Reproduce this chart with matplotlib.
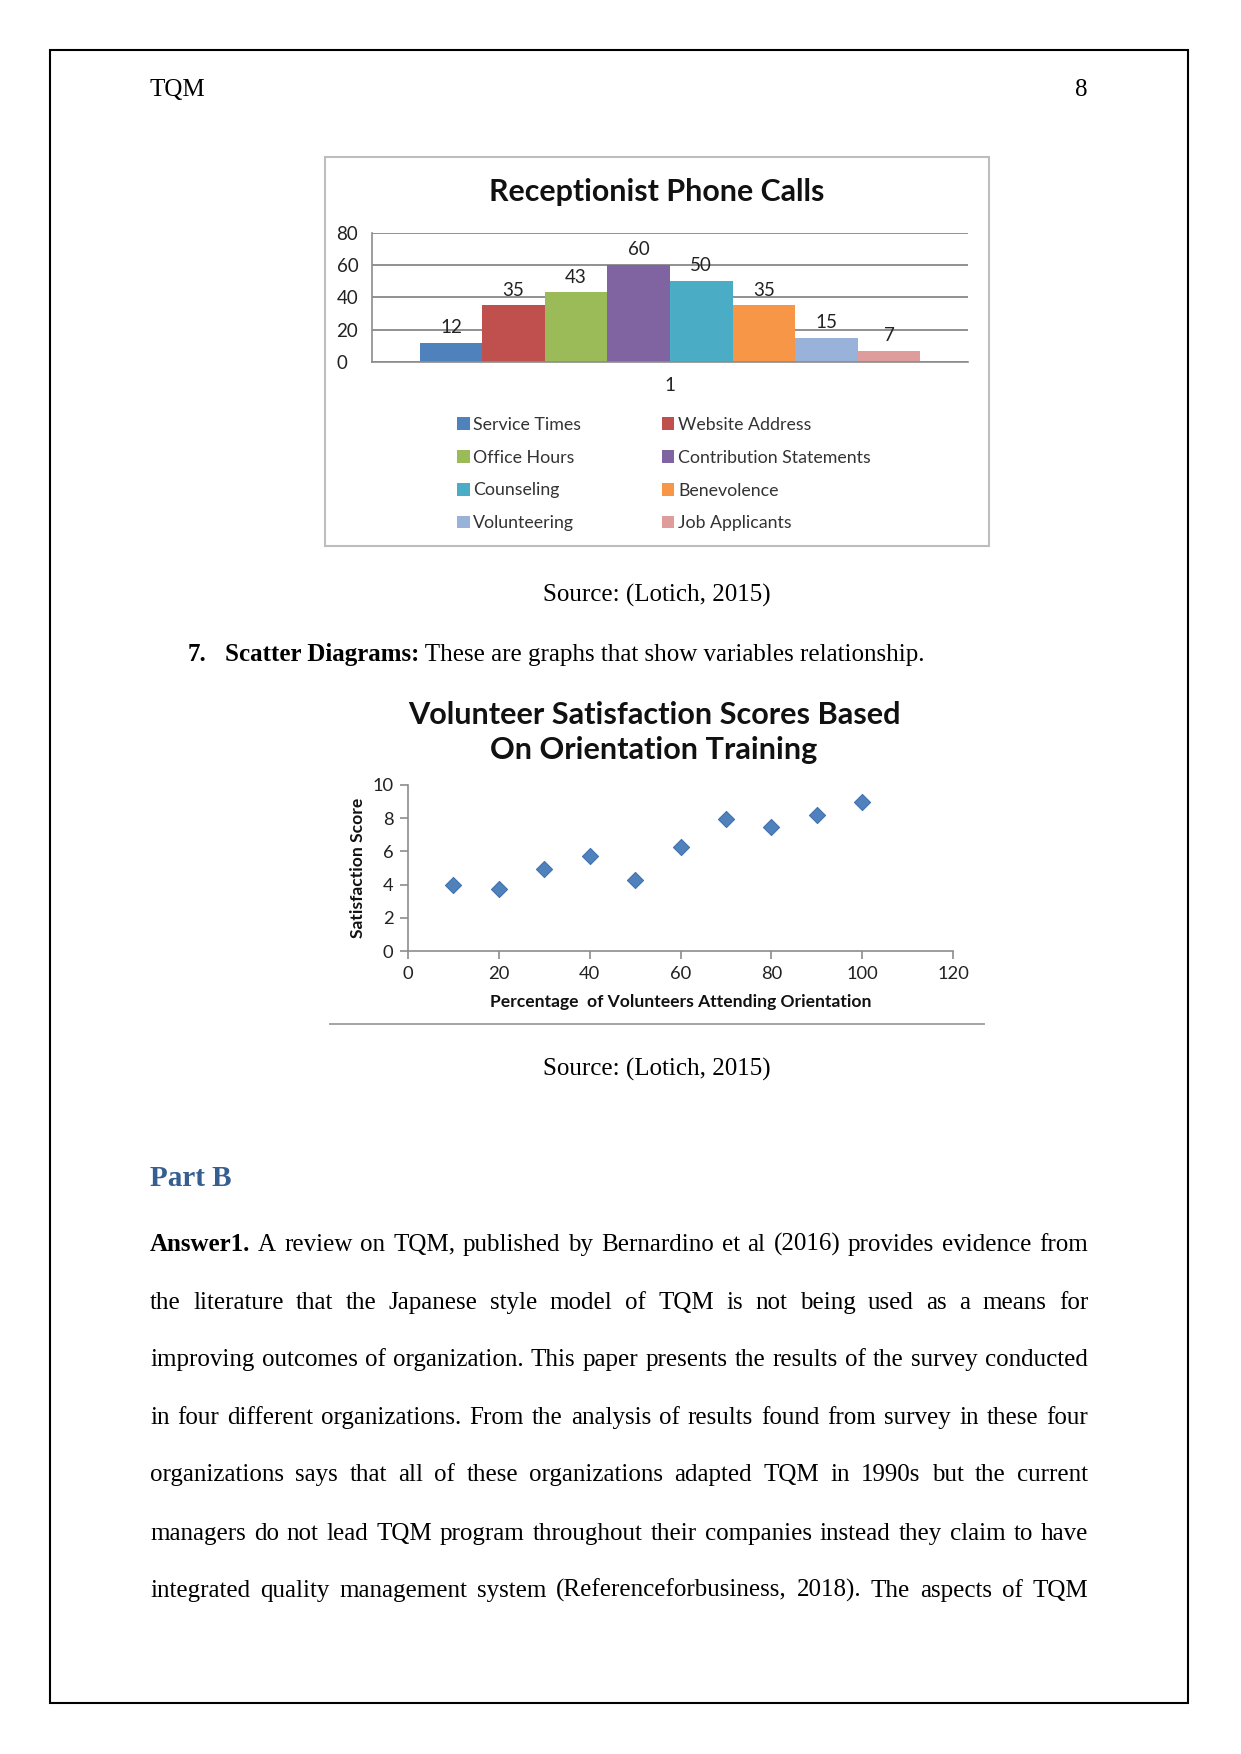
import numpy as np
import matplotlib
matplotlib.use("Agg")
import matplotlib.pyplot as plt
from matplotlib.patches import Rectangle, Patch
from matplotlib.lines import Line2D

W, H = 1241, 1754
DPI = 150

# bar chart data
call_types = ['Service Times', 'Website Address', 'Office Hours', 'Contribution Statements',
              'Counseling', 'Benevolence', 'Volunteering', 'Job Applicants']
call_counts = [12, 35, 43, 60, 50, 35, 15, 7]
call_colors = ['#4F81BD', '#C0504D', '#9BBB59', '#8064A2',
               '#4BACC6', '#F79646', '#98B2DA', '#DE9C9B']

# scatter data
pct_attending = [10, 20, 30, 40, 50, 60, 70, 80, 90, 100]
satisfaction = [4.0, 3.75, 4.95, 5.75, 4.27, 6.27, 7.98, 7.47, 8.22, 9.0]

# body text
para_lines = [
    "A review on TQM, published by Bernardino et al (2016) provides evidence from",
    "the literature that the Japanese style model of TQM is not being used as a means for",
    "improving outcomes of organization. This paper presents the results of the survey conducted",
    "in four different organizations. From the analysis of results found from survey in these four",
    "organizations says that all of these organizations adapted TQM in 1990s but the current",
    "managers do not lead TQM program throughout their companies instead they claim to have",
    "integrated quality management system (Referenceforbusiness, 2018). The aspects of TQM",
]

SERIF = 'Liberation Serif'
SANS = 'Lato'


def fx(px):
    return px / W


def fy(py):
    return 1 - py / H


def ax_rect(left, top, right, bottom):
    return [fx(left), fy(bottom), (right - left) / W, (bottom - top) / H]


fig = plt.figure(figsize=(W / DPI, H / DPI), dpi=DPI)
fig.patch.set_facecolor('white')
renderer = fig.canvas.get_renderer()

# page border
fig.patches.append(Rectangle((fx(50), fy(1703)), (1188 - 50) / W, (1703 - 50) / H,
                             transform=fig.transFigure, fill=False, ec='black', lw=1.0))

# header
fig.text(fx(150), fy(96), "TQM", family=SERIF, fontsize=12, va='baseline')
fig.text(fx(1088), fy(96), "8", family=SERIF, fontsize=12, va='baseline', ha='right')

# ---- bar chart ----
fig.patches.append(Rectangle((fx(325), fy(546)), (989 - 325) / W, (546 - 157) / H,
                             transform=fig.transFigure, fill=False, ec='#BDBDBD', lw=1.0))
fig.text(fx(657), fy(192), "Receptionist Phone Calls", family=SANS, fontsize=14.6,
         fontweight='bold', ha='center', va='center', color='#111111')

ax = fig.add_axes(ax_rect(372, 232.5, 968, 362))
n = len(call_counts)
bw = 0.84 / n
xs = 1 + (np.arange(n) - (n - 1) / 2) * bw
bars = ax.bar(xs, call_counts, width=bw, color=call_colors, edgecolor='none', zorder=2)
for x, v in zip(xs, call_counts):
    ax.text(x, v + 4.2, str(v), ha='center', va='bottom', family=SANS, fontsize=9,
            color='#222222', zorder=3)
ax.set_xlim(0.5, 1.5)
ax.set_ylim(0, 80)
ax.set_yticks(np.arange(0, 81, 20))
ax.set_xticks([1])
ax.set_xticklabels(['1'])
ax.yaxis.grid(True, color='#8C8C8C', lw=0.9)
ax.set_axisbelow(True)
for s in ['top', 'right']:
    ax.spines[s].set_visible(False)
for s in ['left', 'bottom']:
    ax.spines[s].set_color('#8C8C8C')
ax.tick_params(length=0, labelsize=9, colors='#222222')
ax.tick_params(axis='y', pad=17)
ax.tick_params(axis='x', pad=7)
for lab in ax.get_xticklabels() + ax.get_yticklabels():
    lab.set_family(SANS)
for lab in ax.get_yticklabels():
    lab.set_horizontalalignment('left')

order = [0, 2, 4, 6, 1, 3, 5, 7]
handles = [Patch(facecolor=call_colors[i], edgecolor='none') for i in order]
labels = [call_types[i] for i in order]
fig.legend(handles, labels, ncol=2, loc='upper left', bbox_to_anchor=(fx(448), fy(408)),
           frameon=False, prop={'family': SANS, 'size': 8.5}, handlelength=0.72,
           handleheight=0.72, handletextpad=0.2, columnspacing=4.55, labelspacing=0.95,
           borderpad=0, labelcolor='#333333')

# source 1
fig.text(fx(657), fy(602), "Source: (Lotich, 2015)", family=SERIF, fontsize=12,
         ha='center', va='baseline')

# item 7
fig.text(fx(188), fy(661), "7.", family=SERIF, fontsize=12, fontweight='bold', va='baseline')
t1 = fig.text(fx(225), fy(661), "Scatter Diagrams:", family=SERIF, fontsize=12,
              fontweight='bold', va='baseline')
w1 = t1.get_window_extent(renderer).width
fig.text(fx(225 + w1), fy(661), " These are graphs that show variables relationship.",
         family=SERIF, fontsize=12, va='baseline')

# ---- scatter chart ----
fig.text(fx(654), fy(715), "Volunteer Satisfaction Scores Based", family=SANS, fontsize=14.7,
         fontweight='bold', ha='center', va='center', color='#111111')
fig.text(fx(654), fy(750), "On Orientation Training", family=SANS, fontsize=14.7,
         fontweight='bold', ha='center', va='center', color='#111111')

ax2 = fig.add_axes(ax_rect(408, 785, 953, 951))
ax2.scatter(pct_attending, satisfaction, marker='D', s=30, color='#4F81BD',
            edgecolor='#3F71AD', lw=0.5, zorder=3, clip_on=False)
ax2.set_xlim(0, 120)
ax2.set_ylim(0, 10)
ax2.set_xticks(np.arange(0, 121, 20))
ax2.set_yticks(np.arange(0, 11, 2))
for s in ['top', 'right']:
    ax2.spines[s].set_visible(False)
for s in ['left', 'bottom']:
    ax2.spines[s].set_color('#8C8C8C')
ax2.tick_params(length=4, color='#8C8C8C', labelsize=8.8, labelcolor='#222222', pad=3)
for lab in ax2.get_xticklabels() + ax2.get_yticklabels():
    lab.set_family(SANS)
ax2.set_xlabel("Percentage  of Volunteers Attending Orientation", family=SANS, fontsize=8.4,
               fontweight='bold', labelpad=6, color='#111111')
ax2.set_ylabel("Satisfaction Score", family=SANS, fontsize=8.4, fontweight='bold',
               labelpad=3, color='#111111')

fig.lines.append(Line2D([fx(330), fx(984)], [fy(1024), fy(1024)], transform=fig.transFigure,
                        color='#A0A0A0', lw=0.9))

# source 2
fig.text(fx(657), fy(1076), "Source: (Lotich, 2015)", family=SERIF, fontsize=12,
         ha='center', va='baseline')

# Part B heading
fig.text(fx(150), fy(1186), "Part B", family=SERIF, fontsize=14, fontweight='bold',
         color='#365F91', va='baseline')

# justified paragraph
LEFT, RIGHT = 150, 1088
baselines = [1251, 1309, 1366, 1424, 1481, 1540, 1597]
for li, (line, base) in enumerate(zip(para_lines, baselines)):
    pieces = []
    if li == 0:
        pieces.append(("Answer1.", 'bold'))
    pieces += [(w, 'normal') for w in line.split()]
    arts, widths = [], []
    for word, wt in pieces:
        t = fig.text(0, fy(base), word, family=SERIF, fontsize=12, fontweight=wt,
                     va='baseline')
        arts.append(t)
        widths.append(t.get_window_extent(renderer).width)
    gap = (RIGHT - LEFT - sum(widths)) / (len(pieces) - 1)
    x = LEFT
    for t, w in zip(arts, widths):
        t.set_x(fx(x))
        x += w + gap

fig.savefig("out.png", dpi=DPI)
